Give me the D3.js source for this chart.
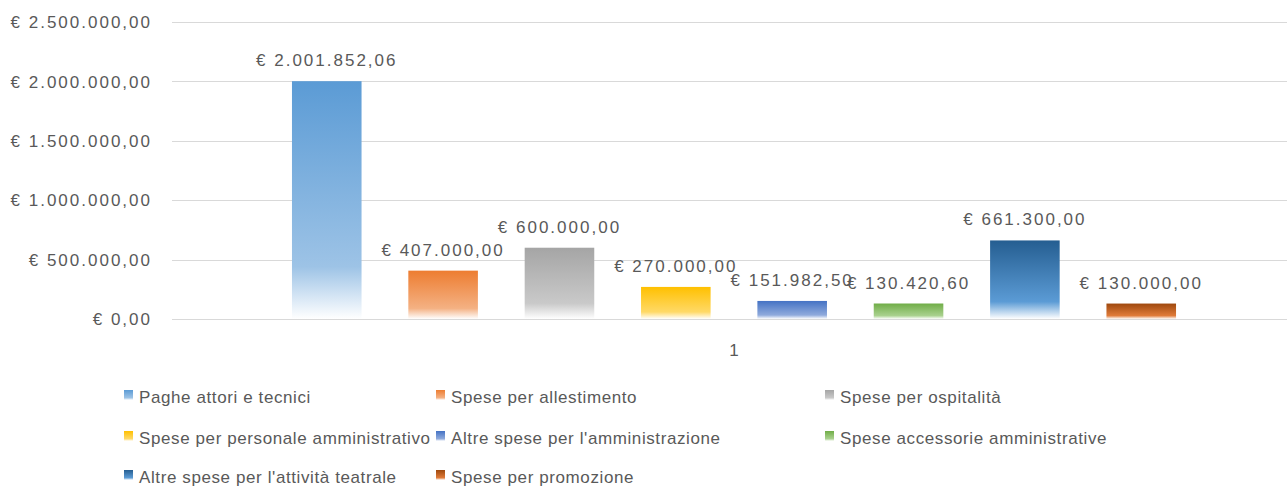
<!DOCTYPE html>
<html>
<head>
<meta charset="utf-8">
<title>Spese</title>
<style>
  body { margin: 0; background: #fff; }
  text { font-family: "Liberation Sans", Arial, sans-serif; fill: #595959; }
</style>
<script src="https://d3js.org/d3.v7.min.js"></script>
</head>
<body>
<div id="chart"></div>
<script>
// data
const categories = ["1"];
const seriesNames = [
  "Paghe attori e tecnici",
  "Spese per allestimento",
  "Spese per ospitalità",
  "Spese per personale amministrativo",
  "Altre spese per l'amministrazione",
  "Spese accessorie amministrative",
  "Altre spese per l'attività teatrale",
  "Spese per promozione"
];
const seriesValues = [2001852.06, 407000, 600000, 270000, 151982.50, 130420.60, 661300, 130000];
const yTicks = [0, 500000, 1000000, 1500000, 2000000, 2500000];

// colours: top, middle, bottom of each gradient
const topColors = ["#5b9bd5", "#ed7d31", "#a5a5a5", "#ffc000", "#4472c4", "#70ad47", "#255e91", "#9e480e"];
const midColors = ["#9dc3e6", "#f4b183", "#c9c9c9", "#ffd966", "#8faadc", "#a9d18e", "#5b9bd5", "#e07b39"];

const W = 1287, H = 486;
const plot = { left: 172, right: 1296, top: 22, bottom: 319 };

const it = d3.formatLocale({ decimal: ",", thousands: ".", grouping: [3], currency: ["€ ", ""] });
const fmt = it.format("$,.2f");

const svg = d3.select("#chart").append("svg")
  .attr("width", W).attr("height", H);

const defs = svg.append("defs");
seriesNames.forEach((s, i) => {
  const g = defs.append("linearGradient")
    .attr("id", "grad" + i)
    .attr("x1", 0).attr("y1", 0).attr("x2", 0).attr("y2", 1);
  g.append("stop").attr("offset", "0%").attr("stop-color", topColors[i]);
  g.append("stop").attr("offset", "78%").attr("stop-color", midColors[i]);
  g.append("stop").attr("offset", "100%").attr("stop-color", "#ffffff");
});

const y = d3.scaleLinear().domain([0, 2500000]).range([plot.bottom, plot.top]);
const x0 = d3.scaleBand().domain(categories).range([plot.left, plot.right]).paddingOuter(0.1357).paddingInner(0);
const x1 = d3.scaleBand().domain(seriesNames).range([0, x0.bandwidth()]).paddingInner(0.402).paddingOuter(0);

// grid lines + y labels
svg.append("g").selectAll("line")
  .data(yTicks).join("line")
  .attr("x1", plot.left).attr("x2", W)
  .attr("y1", d => Math.round(y(d)) + 0.5).attr("y2", d => Math.round(y(d)) + 0.5)
  .attr("stroke", "#d9d9d9").attr("stroke-width", 1);

svg.append("g").selectAll("text")
  .data(yTicks).join("text")
  .attr("x", 152).attr("y", d => y(d))
  .attr("dy", "0.36em")
  .attr("text-anchor", "end")
  .style("font-size", "17px").style("letter-spacing", "2px")
  .text(d => fmt(d));

// bars
const grp = svg.append("g").attr("transform", `translate(${x0(categories[0])},0)`);
grp.selectAll("rect")
  .data(seriesValues).join("rect")
  .attr("x", (d, i) => x1(seriesNames[i]))
  .attr("y", d => y(d))
  .attr("width", x1.bandwidth())
  .attr("height", d => y(0) - y(d))
  .attr("fill", (d, i) => `url(#grad${i})`);

grp.selectAll("text")
  .data(seriesValues).join("text")
  .attr("x", (d, i) => x1(seriesNames[i]) + x1.bandwidth() / 2)
  .attr("y", d => y(d) - 15)
  .attr("text-anchor", "middle")
  .style("font-size", "17px").style("letter-spacing", "2px")
  .text(d => fmt(d));

// category label
svg.append("text")
  .attr("x", x0(categories[0]) + x0.bandwidth() / 2)
  .attr("y", 356)
  .attr("text-anchor", "middle")
  .style("font-size", "17px")
  .text(categories[0]);

// legend
const legCols = [124, 436, 825];
const legRows = [403, 444, 483];
const leg = svg.append("g").selectAll("g")
  .data(seriesNames).join("g")
  .attr("transform", (d, i) => `translate(${legCols[i % 3]},${legRows[Math.floor(i / 3)]})`);
leg.append("rect")
  .attr("x", 0).attr("y", -13).attr("width", 9).attr("height", 10)
  .attr("fill", (d, i) => `url(#grad${i})`);
leg.append("text")
  .attr("x", 15).attr("y", 0)
  .style("font-size", "17px").style("letter-spacing", "0.6px")
  .text(d => d);
</script>
</body>
</html>
